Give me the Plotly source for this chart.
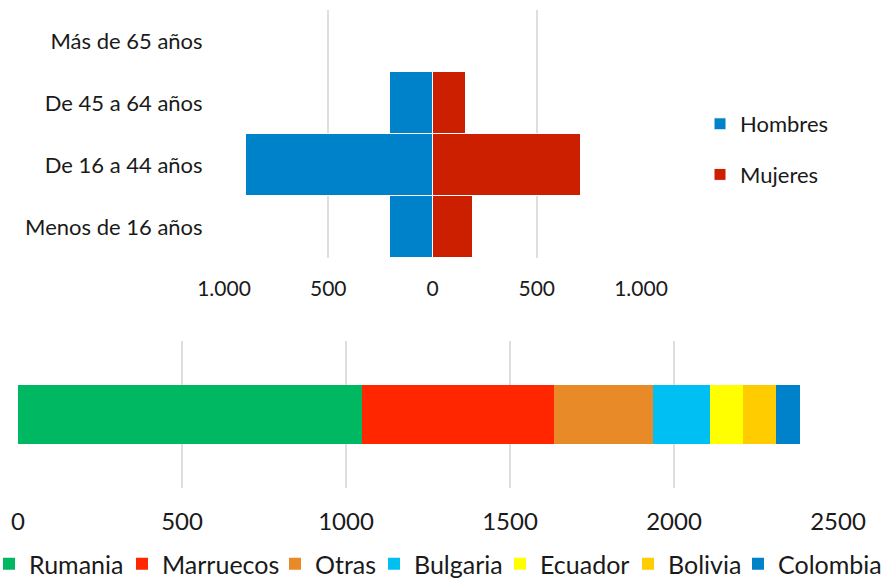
import plotly.graph_objects as go

# ---- Data ----
age_groups = ["Menos de 16 años", "De 16 a 44 años", "De 45 a 64 años", "Más de 65 años"]
hombres = [205, 895, 202, 3]
mujeres = [195, 710, 161, 9]

pyr_tickvals = [-1000, -500, 0, 500, 1000]
pyr_ticktext = ["1.000", "500", "0", "500", "1.000"]

countries = ["Rumania", "Marruecos", "Otras", "Bulgaria", "Ecuador", "Bolivia", "Colombia"]
country_values = [1049, 585, 303, 173, 100, 100, 73]
country_colors = ["#00B862", "#FF2600", "#E98A28", "#00BFF3", "#FFFF00", "#FFCC00", "#0082CA"]

bottom_tickvals = [0, 500, 1000, 1500, 2000, 2500]

W, H = 888, 578
FONT = "Lato"

fig = go.Figure()

# Pyramid
fig.add_trace(go.Bar(
    y=age_groups, x=[-v for v in hombres], orientation="h", name="Hombres",
    marker=dict(color="#0082CA", line=dict(color="white", width=1)),
    width=1, xaxis="x", yaxis="y", legend="legend", legendgroup="h",
    customdata=hombres, hovertemplate="%{y}: %{customdata}<extra>Hombres</extra>",
))
fig.add_trace(go.Bar(
    y=age_groups, x=mujeres, orientation="h", name="Mujeres",
    marker=dict(color="#CC1F00", line=dict(color="white", width=1)),
    width=1, xaxis="x", yaxis="y", legend="legend", legendgroup="m",
))

# Stacked bar, one legend per country so entries sit where the reference puts them
legend_x_px = [-11, 122, 275, 374, 500, 628, 738]
for i, (name, val, col) in enumerate(zip(countries, country_values, country_colors)):
    fig.add_trace(go.Bar(
        y=[0], x=[val], orientation="h", name=name,
        marker=dict(color=col, line=dict(width=0)),
        width=0.4, xaxis="x2", yaxis="y2", legend=f"legend{i + 2}",
    ))

grid = "#DEDEDE"
layout = dict(
    width=W, height=H,
    margin=dict(l=0, r=0, t=0, b=0, autoexpand=False),
    paper_bgcolor="white", plot_bgcolor="white",
    barmode="relative", bargap=0,
    font=dict(family=FONT, color="#1a1a1a", size=22),
    xaxis=dict(
        domain=[224 / W, 641 / W], range=[-1000, 1000],
        tickvals=pyr_tickvals, ticktext=pyr_ticktext,
        showgrid=True, gridcolor=grid, gridwidth=2, zeroline=False,
        showline=False, ticks="outside", ticklen=12, tickcolor="rgba(0,0,0,0)",
        tickfont=dict(size=21), anchor="y", fixedrange=True, automargin=False,
    ),
    yaxis=dict(
        domain=[1 - 258 / H, 1 - 10 / H],
        categoryorder="array", categoryarray=age_groups,
        showgrid=False, zeroline=False, showline=False,
        ticks="outside", ticklen=16, tickcolor="rgba(0,0,0,0)",
        tickfont=dict(size=22), anchor="x", fixedrange=True, automargin=False,
    ),
    xaxis2=dict(
        domain=[18 / W, 838 / W], range=[0, 2500],
        tickvals=bottom_tickvals,
        showgrid=True, gridcolor=grid, gridwidth=2, zeroline=False,
        showline=False, ticks="outside", ticklen=12, tickcolor="rgba(0,0,0,0)",
        tickfont=dict(size=24), anchor="y2", fixedrange=True, automargin=False,
    ),
    yaxis2=dict(
        domain=[1 - 488 / H, 1 - 341 / H], range=[-0.5, 0.5],
        showticklabels=False, showgrid=False, zeroline=False, showline=False,
        anchor="x2", fixedrange=True, automargin=False,
    ),
    legend=dict(
        x=700 / W, y=1 - 103 / H, xanchor="left", yanchor="top",
        font=dict(size=22), tracegroupgap=19, bgcolor="rgba(0,0,0,0)",
        orientation="v",
    ),
)
for i, lx in enumerate(legend_x_px):
    layout[f"legend{i + 2}"] = dict(
        x=lx / W, y=1 - 564 / H, xanchor="left", yanchor="middle",
        orientation="h", font=dict(size=25), bgcolor="rgba(0,0,0,0)",
    )
fig.update_layout(**layout)

fig.write_html(
    "out.html",
    config={"displayModeBar": False},
    post_script="document.body.style.margin='0px';document.body.style.overflow='hidden';",
)
